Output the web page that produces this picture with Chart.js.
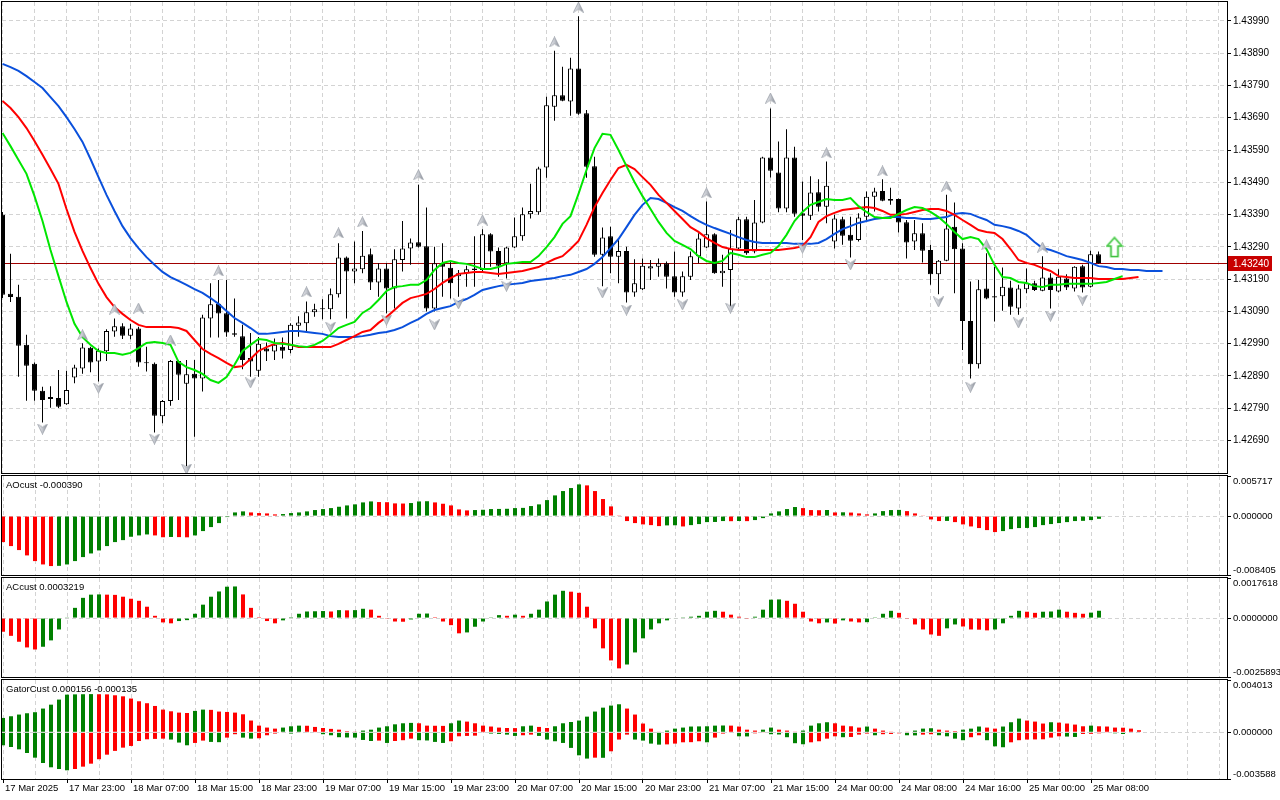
<!DOCTYPE html>
<html><head><meta charset="utf-8">
<script src="https://cdn.jsdelivr.net/npm/chart.js@4.4.1/dist/chart.umd.min.js"></script>
<style>
html,body{margin:0;padding:0;background:#fff;width:1280px;height:800px;overflow:hidden;}
canvas{position:absolute;left:0;}
</style></head><body>
<canvas id="cMain" width="1280" height="474" style="top:0px"></canvas>
<canvas id="cAO" width="1280" height="102" style="top:474px"></canvas>
<canvas id="cAC" width="1280" height="102" style="top:576px"></canvas>
<canvas id="cGator" width="1280" height="122" style="top:678px"></canvas>
<script>
// ---------------- DATA ----------------
const xLabels = ["17 Mar 2025","17 Mar 23:00","18 Mar 07:00","18 Mar 15:00","18 Mar 23:00","19 Mar 07:00","19 Mar 15:00","19 Mar 23:00","20 Mar 07:00","20 Mar 15:00","20 Mar 23:00","21 Mar 07:00","21 Mar 15:00","24 Mar 00:00","24 Mar 08:00","24 Mar 16:00","25 Mar 00:00","25 Mar 08:00"];
const labelStep = 8;   // bars between time labels
const gridStep = 4;    // bars between vertical grid lines
const priceTicks = [1.42690,1.42790,1.42890,1.42990,1.43090,1.43190,1.43290,1.43390,1.43490,1.43590,1.43690,1.43790,1.43890,1.43990];
const currentPrice = 1.43240;

const opens = [1.43389,1.43144,1.43135,1.42986,1.42927,1.42844,1.42818,1.42821,1.42802,1.42885,
1.42913,1.42977,1.42934,1.42966,1.43027,1.43044,1.43014,1.43037,1.42930,1.42927,
1.42765,1.42812,1.42936,1.42865,1.42896,1.42882,1.43068,1.43113,1.43084,1.43022,
1.43013,1.42945,1.42906,1.42975,1.42965,1.42980,1.42970,1.43045,1.43053,1.43087,
1.43096,1.43096,1.43143,1.43257,1.43213,1.43220,1.43267,1.43179,1.43223,1.43161,
1.43249,1.43285,1.43304,1.43292,1.43099,1.43239,1.43225,1.43199,1.43208,1.43218,
1.43218,1.43329,1.43277,1.43239,1.43288,1.43323,1.43391,1.43397,1.43536,1.43724,
1.43760,1.43740,1.43843,1.43704,1.43540,1.43265,1.43323,1.43259,1.43277,1.43148,
1.43158,1.43223,1.43228,1.43239,1.43199,1.43148,1.43197,1.43261,1.43288,1.43329,
1.43208,1.43218,1.43285,1.43375,1.43275,1.43365,1.43567,1.43520,1.43409,1.43567,
1.43394,1.43386,1.43459,1.43414,1.43306,1.43375,1.43327,1.43311,1.43383,1.43445,
1.43463,1.43438,1.43438,1.43366,1.43306,1.43332,1.43280,1.43205,1.43247,1.43352,
1.43285,1.43060,1.42926,1.43161,1.43137,1.43137,1.43164,1.43099,1.43158,1.43177,
1.43154,1.43195,1.43151,1.43192,1.43161,1.43230,1.43166,1.43267];
const highs = [1.43398,1.43268,1.43172,1.43017,1.42931,1.42856,1.42858,1.42908,1.42906,1.42924,
1.42991,1.42980,1.42975,1.43034,1.43068,1.43053,1.43051,1.43042,1.42980,1.42931,
1.42815,1.42939,1.42939,1.42939,1.42939,1.43079,1.43177,1.43187,1.43187,1.43130,
1.43048,1.43023,1.43010,1.42993,1.43006,1.43009,1.43053,1.43075,1.43120,1.43113,
1.43127,1.43161,1.43301,1.43260,1.43306,1.43339,1.43285,1.43239,1.43239,1.43282,
1.43370,1.43316,1.43482,1.43412,1.43290,1.43301,1.43246,1.43218,1.43231,1.43323,
1.43344,1.43332,1.43288,1.43290,1.43381,1.43412,1.43485,1.43538,1.43755,1.43898,
1.43848,1.43876,1.44005,1.43714,1.43569,1.43350,1.43352,1.43311,1.43290,1.43251,
1.43254,1.43249,1.43254,1.43244,1.43275,1.43213,1.43275,1.43332,1.43430,1.43332,
1.43265,1.43342,1.43383,1.43383,1.43435,1.43569,1.43719,1.43616,1.43654,1.43600,
1.43492,1.43509,1.43499,1.43554,1.43389,1.43383,1.43383,1.43394,1.43461,1.43473,
1.43499,1.43473,1.43440,1.43373,1.43373,1.43363,1.43296,1.43249,1.43451,1.43427,
1.43301,1.43182,1.43187,1.43270,1.43228,1.43226,1.43185,1.43172,1.43223,1.43185,
1.43261,1.43208,1.43220,1.43205,1.43230,1.43234,1.43278,1.43275];
const lows = [1.43131,1.43119,1.42887,1.42813,1.42813,1.42745,1.42791,1.42790,1.42800,1.42867,
1.42896,1.42901,1.42872,1.42936,1.43011,1.43004,1.43003,1.42918,1.42903,1.42714,
1.42743,1.42797,1.42815,1.42610,1.42701,1.42841,1.43009,1.43009,1.43011,1.43011,
1.42910,1.42887,1.42887,1.42936,1.42939,1.42944,1.42960,1.43011,1.43024,1.43073,
1.43065,1.43065,1.43133,1.43068,1.43177,1.43208,1.43156,1.43135,1.43084,1.43099,
1.43213,1.43234,1.43288,1.43089,1.43089,1.43135,1.43130,1.43135,1.43166,1.43166,
1.43213,1.43228,1.43197,1.43192,1.43286,1.43309,1.43378,1.43389,1.43504,1.43681,
1.43741,1.43696,1.43699,1.43504,1.43259,1.43168,1.43208,1.43177,1.43117,1.43135,
1.43156,1.43187,1.43197,1.43161,1.43135,1.43135,1.43187,1.43239,1.43286,1.43206,
1.43166,1.43104,1.43280,1.43265,1.43270,1.43363,1.43505,1.43397,1.43397,1.43383,
1.43311,1.43373,1.43399,1.43363,1.43285,1.43296,1.43257,1.43306,1.43373,1.43399,
1.43431,1.43420,1.43334,1.43254,1.43280,1.43241,1.43172,1.43143,1.43245,1.43146,
1.42970,1.42882,1.42913,1.43127,1.43058,1.43092,1.43079,1.43079,1.43146,1.43153,
1.43152,1.43099,1.43149,1.43156,1.43151,1.43148,1.43164,1.43237];
const closes = [1.43141,1.43134,1.42983,1.42921,1.42844,1.42815,1.42824,1.42794,1.42846,1.42916,
1.42978,1.42931,1.42968,1.43029,1.43044,1.43014,1.43037,1.42931,1.42929,1.42766,
1.42812,1.42936,1.42893,1.42895,1.42882,1.43071,1.43112,1.43083,1.43024,1.43017,
1.42939,1.42934,1.42989,1.42965,1.42986,1.42968,1.43048,1.43055,1.43087,1.43096,
1.43097,1.43143,1.43257,1.43213,1.43223,1.43262,1.43179,1.43223,1.43161,1.43251,
1.43285,1.43303,1.43290,1.43099,1.43239,1.43228,1.43177,1.43208,1.43220,1.43223,
1.43329,1.43275,1.43231,1.43288,1.43323,1.43391,1.43401,1.43533,1.43729,1.43760,
1.43743,1.43843,1.43702,1.43538,1.43265,1.43319,1.43259,1.43277,1.43148,1.43177,
1.43231,1.43230,1.43239,1.43197,1.43148,1.43199,1.43261,1.43316,1.43329,1.43208,
1.43216,1.43285,1.43375,1.43270,1.43365,1.43567,1.43526,1.43409,1.43567,1.43392,
1.43386,1.43458,1.43414,1.43479,1.43378,1.43324,1.43309,1.43381,1.43445,1.43461,
1.43433,1.43433,1.43365,1.43303,1.43332,1.43278,1.43205,1.43247,1.43347,1.43282,
1.43060,1.42926,1.43158,1.43130,1.43133,1.43166,1.43104,1.43161,1.43177,1.43156,
1.43195,1.43156,1.43197,1.43164,1.43228,1.43164,1.43267,1.43240];

// Alligator lines (already shifted forward, indexed by bar slot)
const jaw = [1.43857,1.43847,1.43835,1.43819,1.43801,1.43782,1.43754,1.43726,1.43692,1.43655,
1.43615,1.43562,1.43506,1.43451,1.43401,1.43354,1.43317,1.43286,1.43258,1.43234,
1.43212,1.43196,1.43184,1.43172,1.43159,1.43147,1.43131,1.43113,1.43091,1.43069,
1.43054,1.43038,1.43020,1.43020,1.43023,1.43026,1.43029,1.43029,1.43026,1.43023,
1.43020,1.43013,1.43010,1.43010,1.43010,1.43013,1.43017,1.43023,1.43026,1.43032,
1.43041,1.43054,1.43066,1.43082,1.43094,1.43100,1.43106,1.43119,1.43128,1.43141,
1.43156,1.43162,1.43168,1.43172,1.43175,1.43178,1.43184,1.43187,1.43190,1.43193,
1.43199,1.43203,1.43212,1.43221,1.43237,1.43258,1.43286,1.43314,1.43351,1.43389,
1.43420,1.43441,1.43438,1.43426,1.43413,1.43401,1.43385,1.43370,1.43358,1.43348,
1.43339,1.43330,1.43320,1.43311,1.43305,1.43302,1.43302,1.43302,1.43302,1.43299,
1.43299,1.43299,1.43302,1.43314,1.43330,1.43345,1.43354,1.43364,1.43370,1.43376,
1.43379,1.43382,1.43382,1.43379,1.43379,1.43376,1.43376,1.43379,1.43382,1.43392,
1.43395,1.43392,1.43382,1.43373,1.43358,1.43354,1.43348,1.43339,1.43327,1.43305,
1.43286,1.43280,1.43271,1.43261,1.43255,1.43249,1.43240,1.43230,1.43227,1.43221,
1.43221,1.43218,1.43218,1.43215,1.43215,1.43215];
const teeth = [1.43742,1.43720,1.43692,1.43658,1.43618,1.43575,1.43531,1.43485,1.43407,1.43336,
1.43277,1.43224,1.43175,1.43134,1.43103,1.43082,1.43063,1.43048,1.43041,1.43041,
1.43041,1.43041,1.43038,1.43029,1.43001,1.42973,1.42958,1.42945,1.42930,1.42917,
1.42920,1.42942,1.42967,1.42979,1.42989,1.42992,1.42986,1.42979,1.42979,1.42979,
1.42979,1.42979,1.42989,1.43001,1.43013,1.43026,1.43032,1.43054,1.43072,1.43094,
1.43116,1.43131,1.43137,1.43144,1.43159,1.43178,1.43193,1.43206,1.43209,1.43212,
1.43212,1.43209,1.43206,1.43209,1.43212,1.43215,1.43221,1.43227,1.43240,1.43252,
1.43261,1.43283,1.43308,1.43358,1.43413,1.43457,1.43497,1.43534,1.43544,1.43531,
1.43506,1.43482,1.43451,1.43426,1.43401,1.43376,1.43351,1.43336,1.43317,1.43302,
1.43289,1.43283,1.43280,1.43280,1.43280,1.43280,1.43280,1.43280,1.43283,1.43286,
1.43292,1.43320,1.43367,1.43385,1.43395,1.43404,1.43407,1.43410,1.43413,1.43410,
1.43401,1.43389,1.43389,1.43392,1.43398,1.43404,1.43407,1.43407,1.43401,1.43389,
1.43373,1.43358,1.43342,1.43336,1.43333,1.43314,1.43283,1.43249,1.43240,1.43234,
1.43224,1.43215,1.43199,1.43196,1.43193,1.43193,1.43193,1.43190,1.43190,1.43190,
1.43190,1.43193,1.43196];
const lips = [1.43643,1.43602,1.43559,1.43516,1.43447,1.43370,1.43280,1.43199,1.43119,1.43051,
1.43010,1.42986,1.42967,1.42961,1.42961,1.42955,1.42961,1.42976,1.42992,1.42995,
1.42992,1.42986,1.42933,1.42917,1.42908,1.42896,1.42877,1.42868,1.42886,1.42924,
1.42967,1.42986,1.43004,1.43001,1.42992,1.42989,1.42986,1.42982,1.42979,1.42986,
1.42998,1.43017,1.43038,1.43048,1.43057,1.43085,1.43100,1.43125,1.43153,1.43165,
1.43168,1.43172,1.43172,1.43187,1.43218,1.43240,1.43246,1.43240,1.43237,1.43230,
1.43221,1.43221,1.43227,1.43237,1.43240,1.43243,1.43243,1.43261,1.43289,1.43320,
1.43361,1.43385,1.43454,1.43528,1.43596,1.43640,1.43637,1.43590,1.43540,1.43491,
1.43447,1.43407,1.43367,1.43333,1.43308,1.43296,1.43283,1.43261,1.43246,1.43240,
1.43246,1.43271,1.43265,1.43258,1.43258,1.43265,1.43271,1.43292,1.43327,1.43370,
1.43398,1.43420,1.43429,1.43438,1.43435,1.43435,1.43441,1.43416,1.43398,1.43382,
1.43379,1.43379,1.43392,1.43404,1.43413,1.43410,1.43398,1.43382,1.43361,1.43336,
1.43314,1.43320,1.43314,1.43283,1.43234,1.43196,1.43193,1.43181,1.43178,1.43168,
1.43165,1.43172,1.43172,1.43175,1.43175,1.43175,1.43175,1.43178,1.43181,1.43190,
1.43199];

// Fractal markers: bar index and marker level
const fractalUpIdx = [10,14,17,21,27,38,42,45,52,60,69,72,88,96,103,110,118,123,130];
const fractalUpVal = [1.43017,1.43097,1.43100,1.43001,1.43215,1.43150,1.43333,1.43367,1.43513,1.43373,1.43925,1.44033,1.43457,1.43751,1.43581,1.43525,1.43478,1.43296,1.43289];
const fractalDownIdx = [5,12,19,23,31,41,48,54,57,63,75,78,85,91,100,106,117,121,127,131,135];
const fractalDownVal = [1.42725,1.42852,1.42694,1.42601,1.42868,1.43041,1.43063,1.43048,1.43113,1.43168,1.43147,1.43094,1.43110,1.43100,1.43286,1.43234,1.43119,1.42855,1.43054,1.43075,1.43125];
const signalIdx = [139];
const signalVal = [1.43289];

const aoValues = [-0.00371,-0.00428,-0.00485,-0.00561,-0.00642,-0.00690,-0.00713,-0.00710,-0.00690,-0.00642,
-0.00585,-0.00533,-0.00490,-0.00428,-0.00371,-0.00343,-0.00295,-0.00276,-0.00262,-0.00276,
-0.00302,-0.00298,-0.00300,-0.00303,-0.00276,-0.00214,-0.00157,-0.00100,-0.00014,0.00052,
0.00067,0.00052,0.00043,0.00038,0.00024,0.00029,0.00043,0.00052,0.00067,0.00086,
0.00100,0.00114,0.00133,0.00152,0.00167,0.00195,0.00209,0.00200,0.00198,0.00181,
0.00179,0.00186,0.00209,0.00212,0.00195,0.00176,0.00152,0.00095,0.00081,0.00086,
0.00090,0.00100,0.00102,0.00104,0.00114,0.00117,0.00143,0.00167,0.00228,0.00295,
0.00357,0.00400,0.00452,0.00438,0.00357,0.00243,0.00138,0.00010,-0.00071,-0.00100,
-0.00119,-0.00129,-0.00143,-0.00133,-0.00131,-0.00148,-0.00129,-0.00114,-0.00086,-0.00084,
-0.00071,-0.00073,-0.00070,-0.00072,-0.00057,-0.00029,0.00038,0.00067,0.00100,0.00129,
0.00114,0.00086,0.00084,0.00087,0.00052,0.00054,0.00050,0.00038,0.00024,0.00038,
0.00071,0.00086,0.00088,0.00071,0.00038,0.00005,-0.00048,-0.00071,-0.00069,-0.00086,
-0.00119,-0.00148,-0.00171,-0.00200,-0.00228,-0.00214,-0.00186,-0.00171,-0.00169,-0.00157,
-0.00129,-0.00114,-0.00100,-0.00086,-0.00071,-0.00068,-0.00057,-0.000390];
const aoAxis = [0.005717, 0, -0.008405];

const acValues = [-0.00060,-0.00078,-0.00104,-0.00129,-0.00138,-0.00126,-0.00098,-0.00050,0.00003,0.00045,
0.00089,0.00103,0.00104,0.00103,0.00102,0.00094,0.00085,0.00076,0.00050,0.00010,
-0.00019,-0.00023,-0.00013,-0.00009,0.00019,0.00059,0.00094,0.00117,0.00138,0.00139,
0.00104,0.00045,0.00004,-0.00013,-0.00023,-0.00010,0.00004,0.00019,0.00029,0.00030,
0.00031,0.00029,0.00035,0.00034,0.00035,0.00041,0.00037,0.00010,-0.00001,-0.00015,
-0.00016,-0.00006,0.00019,0.00020,0.00004,-0.00015,-0.00031,-0.00067,-0.00063,-0.00038,
-0.00015,0.00001,0.00013,0.00010,0.00015,0.00010,0.00019,0.00037,0.00073,0.00103,
0.00120,0.00116,0.00111,0.00050,-0.00045,-0.00133,-0.00186,-0.00221,-0.00204,-0.00151,
-0.00089,-0.00050,-0.00023,-0.00010,-0.00002,0.00001,0.00006,0.00010,0.00028,0.00032,
0.00028,0.00015,0.00006,-0.00001,0.00006,0.00037,0.00081,0.00082,0.00076,0.00063,
0.00028,-0.00015,-0.00023,-0.00019,-0.00024,-0.00010,-0.00015,-0.00019,-0.00018,0.00001,
0.00019,0.00032,0.00023,-0.00001,-0.00028,-0.00050,-0.00072,-0.00078,-0.00045,-0.00028,
-0.00037,-0.00050,-0.00051,-0.00054,-0.00050,-0.00023,0.00010,0.00032,0.00028,0.00023,
0.00028,0.00029,0.00037,0.00028,0.00023,0.00019,0.00024,0.0003219];
const acAxis = [0.0017618, 0, -0.0025893];

const gatorUp = [0.00110,0.00123,0.00136,0.00146,0.00154,0.00182,0.00212,0.00251,0.00289,0.00291,
0.00292,0.00293,0.00292,0.00291,0.00284,0.00276,0.00259,0.00238,0.00223,0.00202,
0.00174,0.00161,0.00151,0.00148,0.00164,0.00174,0.00172,0.00159,0.00156,0.00151,
0.00138,0.00090,0.00051,0.00036,0.00028,0.00036,0.00046,0.00051,0.00050,0.00041,
0.00033,0.00026,0.00020,0.00008,0.00005,0.00013,0.00020,0.00036,0.00046,0.00061,
0.00069,0.00072,0.00069,0.00051,0.00050,0.00049,0.00069,0.00090,0.00082,0.00069,
0.00051,0.00044,0.00036,0.00033,0.00032,0.00046,0.00051,0.00041,0.00033,0.00046,
0.00069,0.00079,0.00090,0.00120,0.00159,0.00189,0.00205,0.00215,0.00182,0.00136,
0.00067,0.00028,0.00003,0.00013,0.00028,0.00036,0.00044,0.00045,0.00046,0.00051,
0.00052,0.00051,0.00044,0.00020,0.00013,0.00020,0.00036,0.00020,0.00013,0.00005,
0.00013,0.00051,0.00069,0.00077,0.00069,0.00051,0.00046,0.00036,0.00044,0.00028,
0.00013,0.00005,0.00004,0.00003,0.00013,0.00028,0.00031,0.00020,0.00013,0.00008,
0.00020,0.00028,0.00044,0.00036,0.00028,0.00044,0.00077,0.00105,0.00090,0.00082,
0.00067,0.00077,0.00074,0.00067,0.00059,0.00046,0.00051,0.00046,0.00044,0.00036,
0.00035,0.00028,0.000156];
const gatorDown = [-0.00100,-0.00113,-0.00131,-0.00159,-0.00195,-0.00236,-0.00269,-0.00282,-0.00292,-0.00282,
-0.00264,-0.00241,-0.00207,-0.00172,-0.00143,-0.00118,-0.00105,-0.00067,-0.00054,-0.00051,
-0.00049,-0.00056,-0.00079,-0.00100,-0.00082,-0.00064,-0.00074,-0.00076,-0.00041,-0.00015,
-0.00041,-0.00049,-0.00046,-0.00023,-0.00010,-0.00005,-0.00010,-0.00003,-0.00005,-0.00003,
-0.00015,-0.00023,-0.00038,-0.00040,-0.00041,-0.00059,-0.00067,-0.00064,-0.00082,-0.00067,
-0.00061,-0.00049,-0.00061,-0.00063,-0.00074,-0.00082,-0.00069,-0.00031,-0.00028,-0.00026,
-0.00005,-0.00010,-0.00013,-0.00018,-0.00028,-0.00023,-0.00018,-0.00028,-0.00056,-0.00069,
-0.00082,-0.00120,-0.00177,-0.00202,-0.00195,-0.00196,-0.00146,-0.00056,-0.00018,-0.00056,
-0.00064,-0.00087,-0.00095,-0.00093,-0.00087,-0.00077,-0.00076,-0.00069,-0.00077,-0.00041,
-0.00010,-0.00005,-0.00031,-0.00032,-0.00008,-0.00005,-0.00015,-0.00017,-0.00038,-0.00084,
-0.00092,-0.00077,-0.00069,-0.00049,-0.00031,-0.00038,-0.00036,-0.00018,-0.00010,-0.00023,
-0.00015,-0.00013,-0.00008,-0.00023,-0.00024,-0.00018,-0.00015,-0.00023,-0.00031,-0.00049,
-0.00061,-0.00038,-0.00023,-0.00061,-0.00108,-0.00115,-0.00077,-0.00061,-0.00056,-0.00055,
-0.00054,-0.00041,-0.00031,-0.00033,-0.00036,-0.00013,-0.00012,-0.00008,-0.00005,-0.00008,
-0.000135];
const gatorAxis = [0.004013, 0, -0.003588];

// ---------------- STYLE ----------------
const FONT_FAMILY = "'Liberation Sans', Arial, sans-serif";
const FS = 9.5;
const FS_Y = 10;
const GRID = '#d3d3d3';
const GREEN = '#008000';
const RED = '#ff0000';
const PRICE_RED = '#c80000';
const PRICE_LINE = '#a00000';
Chart.defaults.font.family = FONT_FAMILY;
Chart.defaults.font.size = FS;
Chart.defaults.color = '#000';

function xLabelFor(v) {
  const k = Math.round(v / labelStep);
  return (v % labelStep === 0 && k < xLabels.length) ? xLabels[k] : '';
}
function makeX(centerOffset, showLabels) {
  const min = -centerOffset / 8;
  const max = min + 1225 / 8;
  return {
    type: 'linear', min: min, max: max, offset: false, display: true,
    afterBuildTicks: s => { const t = []; for (let v = 0; v <= max; v += gridStep) t.push({value: v}); s.ticks = t; },
    grid: { display: true, color: GRID, lineWidth: 1, offset: false, drawOnChartArea: true,
      drawTicks: showLabels, tickLength: 4, tickWidth: 1, tickBorderDash: [],
      tickColor: c => (c.tick && xLabelFor(c.tick.value) !== '') ? '#000' : 'rgba(0,0,0,0)' },
    border: { display: false, dash: [4, 3] },
    ticks: { display: showLabels, autoSkip: false, maxRotation: 0, minRotation: 0, align: 'start', padding: 0,
      labelOffset: 2, color: '#000', callback: v => xLabelFor(v) },
    afterFit: s => { s.height = showLabels ? 21 : 0; s.paddingLeft = 0; s.paddingRight = 0; }
  };
}
function pts(arr) { return arr.map((v, i) => ({x: i, y: v})); }
function pairPts(idx, vals) { return idx.map((i, k) => ({x: i, y: vals[k]})); }
function risingColor(arr, i) { const j = i === 0 ? 1 : i; return arr[j] > arr[j - 1] ? GREEN : RED; }
function growingAbsColor(arr, i) { const j = i === 0 ? 1 : i; return Math.abs(arr[j]) > Math.abs(arr[j - 1]) ? GREEN : RED; }

function makeFractal(up) {
  const c = document.createElement('canvas'); c.width = 11; c.height = 11;
  const g = c.getContext('2d');
  if (!up) { g.translate(0, 11); g.scale(1, -1); }
  const grad = g.createLinearGradient(0, 0, 11, 0);
  grad.addColorStop(0, '#f2f3f6'); grad.addColorStop(0.5, '#c4c7ce'); grad.addColorStop(1, '#80858f');
  g.beginPath(); g.moveTo(5.5, 0.5); g.lineTo(10.5, 10.5); g.lineTo(5.5, 7.5); g.lineTo(0.5, 10.5); g.closePath();
  g.fillStyle = grad; g.fill(); g.strokeStyle = '#9ca1aa'; g.lineWidth = 0.8; g.stroke();
  return c;
}
function makeSignal() {
  const c = document.createElement('canvas'); c.width = 18; c.height = 22;
  const g = c.getContext('2d');
  g.beginPath(); g.moveTo(9, 1.5); g.lineTo(16.5, 10); g.lineTo(12.5, 10); g.lineTo(12.5, 20.5);
  g.lineTo(5.5, 20.5); g.lineTo(5.5, 10); g.lineTo(1.5, 10); g.closePath();
  g.fillStyle = '#ffffff'; g.fill();
  g.lineWidth = 2.2; g.strokeStyle = '#8fe68f'; g.stroke();
  g.lineWidth = 1; g.strokeStyle = '#2fb82f'; g.stroke();
  return c;
}

const frame = (ctx, a) => {
  ctx.strokeStyle = '#000'; ctx.lineWidth = 1;
  ctx.strokeRect(a.left - 0.5, a.top - 0.5, a.right - a.left + 1, a.bottom - a.top + 1);
};
const mainDecor = {
  id: 'mainDecor',
  beforeDatasetsDraw(chart) {
    const {ctx, chartArea: a} = chart; const y = chart.scales.y;
    const py = Math.round(y.getPixelForValue(currentPrice)) + 0.5;
    ctx.save();
    ctx.strokeStyle = PRICE_LINE; ctx.lineWidth = 1;
    ctx.beginPath(); ctx.moveTo(a.left, py); ctx.lineTo(a.right, py); ctx.stroke();
    ctx.restore();
  },
  afterDraw(chart) {
    const {ctx, chartArea: a} = chart; const y = chart.scales.y;
    ctx.save();
    frame(ctx, a);
    const py = Math.round(y.getPixelForValue(currentPrice));
    ctx.fillStyle = PRICE_RED;
    ctx.fillRect(a.right + 1, py - 7, 44, 15);
    ctx.fillStyle = '#fff'; ctx.font = FS_Y + 'px ' + FONT_FAMILY;
    ctx.textAlign = 'left'; ctx.textBaseline = 'middle';
    ctx.fillText(currentPrice.toFixed(5), a.right + 6, py + 1);
    ctx.restore();
  }
};
const indDecor = {
  id: 'indDecor',
  afterDraw(chart, args, o) {
    const {ctx, chartArea: a} = chart; const y = chart.scales.y;
    ctx.save();
    frame(ctx, a);
    ctx.font = FS + 'px ' + FONT_FAMILY; ctx.fillStyle = '#000';
    ctx.textAlign = 'left'; ctx.textBaseline = 'middle';
    ctx.fillText(o.title, a.left + 4, a.top + 9);
    o.ticks.forEach((v, k) => {
      const py = Math.round(y.getPixelForValue(v));
      ctx.beginPath(); ctx.moveTo(a.right, py + 0.5); ctx.lineTo(a.right + 4, py + 0.5); ctx.stroke();
      const off = k === 0 ? 5 : (k === o.ticks.length - 1 ? -5 : 0.5);
      ctx.fillText(v.toFixed(o.decimals), a.right + 6, py + off);
    });
    ctx.restore();
  }
};

// ---------------- MAIN CHART ----------------
const idx = closes.map((_, i) => i);
const barCommon = { type: 'bar', grouped: false, barPercentage: 1, categoryPercentage: 1, inflateAmount: 0 };
const lineCommon = { type: 'line', pointRadius: 0, borderWidth: 2, tension: 0, fill: false };
const mainY = {
  type: 'linear', position: 'right', min: 1.425887, max: 1.440488,
  afterBuildTicks: s => { s.ticks = priceTicks.map(v => ({value: v})); },
  grid: { color: GRID, drawTicks: true, tickLength: 4, tickColor: '#000', tickBorderDash: [] },
  border: { display: false, dash: [4, 3] },
  ticks: { autoSkip: false, padding: 2, color: '#000', font: { size: FS_Y }, callback: v => v.toFixed(5) },
  afterFit: s => { s.width = 53; s.paddingTop = 0; s.paddingBottom = 0; }
};
new Chart(document.getElementById('cMain'), {
  type: 'bar',
  data: { datasets: [
    Object.assign({}, barCommon, { order: 6, data: idx.map(i => ({x: i, y: [lows[i], highs[i]]})),
      backgroundColor: '#000', borderWidth: 0, maxBarThickness: 1 }),
    Object.assign({}, barCommon, { order: 5, data: idx.map(i => ({x: i, y: [opens[i], closes[i]]})),
      backgroundColor: c => closes[c.dataIndex] > opens[c.dataIndex] ? '#ffffff' : '#000000',
      borderColor: '#000', borderWidth: 1, borderSkipped: false, maxBarThickness: 5, minBarLength: 1 }),
    Object.assign({}, lineCommon, { order: 4, data: pts(jaw), borderColor: '#0a50dc' }),
    Object.assign({}, lineCommon, { order: 3, data: pts(teeth), borderColor: '#ff0000' }),
    Object.assign({}, lineCommon, { order: 2, data: pts(lips), borderColor: '#00e600' }),
    { type: 'line', order: 1, showLine: false, data: pairPts(fractalUpIdx, fractalUpVal), pointStyle: makeFractal(true), pointRadius: 5, clip: false },
    { type: 'line', order: 1, showLine: false, data: pairPts(fractalDownIdx, fractalDownVal), pointStyle: makeFractal(false), pointRadius: 5, clip: false },
    { type: 'line', order: 0, showLine: false, data: pairPts(signalIdx, signalVal), pointStyle: makeSignal(), pointRadius: 8, clip: false }
  ]},
  options: {
    responsive: false, animation: false, events: [],
    layout: { autoPadding: false, padding: {left: 2, top: 2, right: 0, bottom: 1} },
    plugins: { legend: {display: false}, tooltip: {enabled: false} },
    scales: { x: makeX(0.5, false), y: mainY }
  },
  plugins: [mainDecor]
});

// ---------------- INDICATOR CHARTS ----------------
function indicatorChart(id, datasets, axis, decimals, title, showX, gridOnTop) {
  return new Chart(document.getElementById(id), {
    type: 'bar',
    data: { datasets: datasets },
    options: {
      responsive: false, animation: false, events: [],
      layout: { autoPadding: false, padding: {left: 2, top: 2, right: 0, bottom: showX ? 0 : 1} },
      plugins: { legend: {display: false}, tooltip: {enabled: false},
        indDecor: { title: title, ticks: axis, decimals: decimals } },
      scales: {
        x: makeX(1, showX),
        y: { type: 'linear', position: 'right', min: axis[2], max: axis[0],
          afterBuildTicks: s => { s.ticks = [{value: 0}]; },
          grid: { color: GRID, drawTicks: false, z: gridOnTop ? 1 : 0 },
          border: { display: false, dash: [4, 3] },
          ticks: { display: false },
          afterFit: s => { s.width = 53; s.paddingTop = 0; s.paddingBottom = 0; } }
      }
    },
    plugins: [indDecor]
  });
}
const histo = { type: 'bar', grouped: false, barPercentage: 1, categoryPercentage: 1, inflateAmount: 0, borderWidth: 0, maxBarThickness: 4 };

indicatorChart('cAO', [
  Object.assign({}, histo, { data: pts(aoValues), backgroundColor: c => risingColor(aoValues, c.dataIndex) })
], aoAxis, 6, 'AOcust ' + aoValues[aoValues.length - 1].toFixed(6), false, false);

indicatorChart('cAC', [
  Object.assign({}, histo, { data: pts(acValues), backgroundColor: c => risingColor(acValues, c.dataIndex) })
], acAxis, 7, 'ACcust ' + acValues[acValues.length - 1].toFixed(7), false, false);

indicatorChart('cGator', [
  Object.assign({}, histo, { data: pts(gatorUp), backgroundColor: c => risingColor(gatorUp, c.dataIndex) }),
  Object.assign({}, histo, { data: pts(gatorDown), backgroundColor: c => growingAbsColor(gatorDown, c.dataIndex) })
], gatorAxis, 6, 'GatorCust ' + gatorUp[gatorUp.length - 1].toFixed(6) + ' ' + gatorDown[gatorDown.length - 1].toFixed(6), true, true);
</script>
</body></html>
